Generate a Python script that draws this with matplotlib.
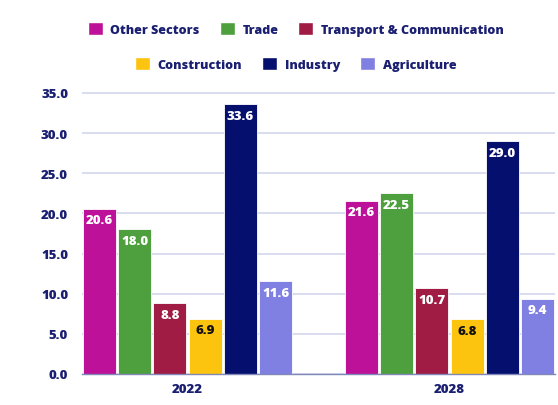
import matplotlib.pyplot as plt
import numpy as np
from matplotlib.patches import Patch

plt.rcParams['font.family'] = ['Open Sans', 'DejaVu Sans']

# data
years = ['2022', '2028']
sectors = ['Other Sectors', 'Trade', 'Transport & Communication',
           'Construction', 'Industry', 'Agriculture']
other_sectors = [20.6, 21.6]
trade = [18.0, 22.5]
transport = [8.8, 10.7]
construction = [6.9, 6.8]
industry = [33.6, 29.0]
agriculture = [11.6, 9.4]

series = [other_sectors, trade, transport, construction, industry, agriculture]
colors = ['#bc1198', '#4e9f3d', '#a01c44', '#fcc30f', '#05106e', '#8080e2']
label_colors = ['white', 'white', 'white', '#111111', 'white', 'white']
navy = '#1a1f71'
wt = 'heavy'

fig = plt.figure(figsize=(5.58, 4.06), dpi=100)
ax = fig.add_axes([82 / 558, 1 - 375 / 406, (555 - 82) / 558, (375 - 94) / 406 * 40 / 35])

x = np.arange(len(years))
step = 0.1347
width = 0.126
for i, (vals, col, lcol) in enumerate(zip(series, colors, label_colors)):
    pos = x + (i - 2.5) * step
    bars = ax.bar(pos, vals, width=width, color=col, edgecolor='white',
                  linewidth=0.6, zorder=3)
    for b, v in zip(bars, vals):
        ax.text(b.get_x() + b.get_width() / 2, v - 1.45, f'{v:.1f}',
                ha='center', va='center', color=lcol, fontsize=9.5,
                fontweight=wt, zorder=4)

ax.set_xlim(-0.4027, 1.4027)
ax.set_ylim(0, 40)
ax.set_yticks(np.arange(0, 36, 5))
ax.set_yticklabels([f'{t:.1f}' for t in np.arange(0, 36, 5)])
ax.set_xticks(x)
ax.set_xticklabels(years)
ax.tick_params(axis='both', length=0, labelsize=9.5, labelcolor=navy, pad=10)
for lbl in ax.get_xticklabels() + ax.get_yticklabels():
    lbl.set_fontweight(wt)
ax.tick_params(axis='x', pad=6.5)

ax.yaxis.grid(True, color='#d3d5ec', linewidth=1.2, zorder=0)
for s in ['top', 'right', 'left']:
    ax.spines[s].set_visible(False)
ax.spines['bottom'].set_color('#8088b8')
ax.spines['bottom'].set_linewidth(1.0)
ax.spines['bottom'].set_zorder(5)

# legend, two centred rows
handles = [Patch(facecolor=c, edgecolor='white') for c in colors]
leg_kw = dict(frameon=False, ncol=3, handlelength=1.2, handleheight=1.2,
              handletextpad=0.6, columnspacing=1.6, loc='center',
              prop={'weight': wt, 'size': 9})
leg1 = fig.legend(handles[:3], sectors[:3], bbox_to_anchor=(0.53, 1 - 30 / 406), **leg_kw)
leg2 = fig.legend(handles[3:], sectors[3:], bbox_to_anchor=(0.53, 1 - 65 / 406), **leg_kw)
for leg in (leg1, leg2):
    for t in leg.get_texts():
        t.set_color(navy)

fig.savefig('out.png', dpi=100)
